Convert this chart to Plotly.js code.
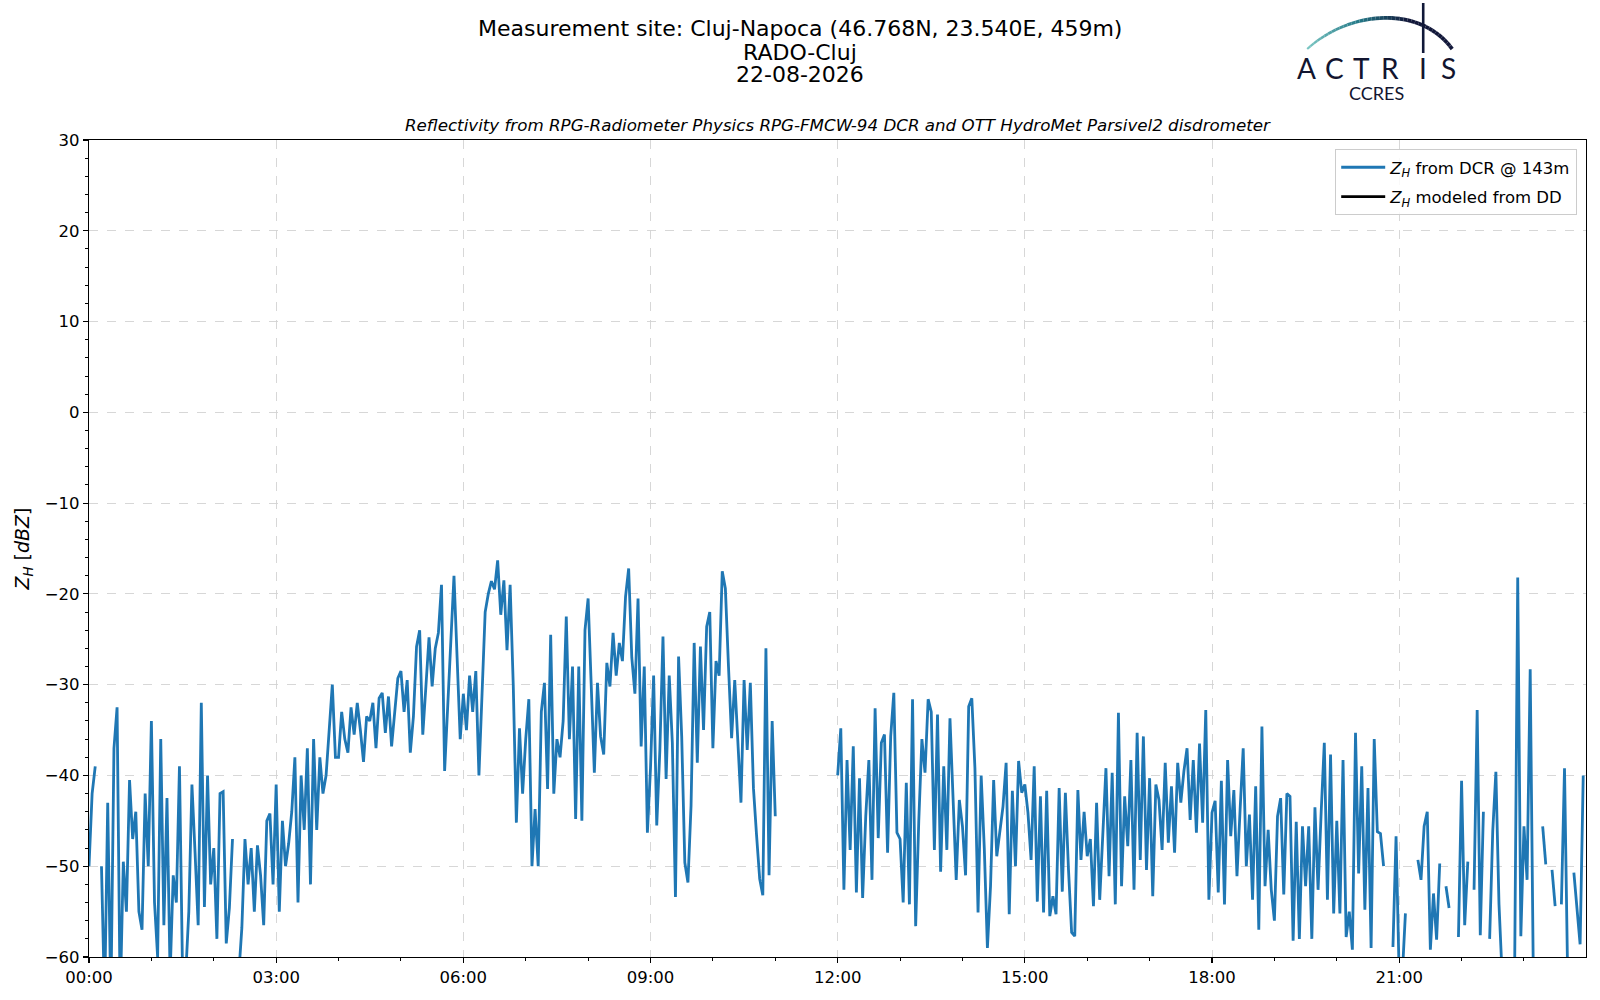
<!DOCTYPE html>
<html><head><meta charset="utf-8">
<script src="https://cdn.plot.ly/plotly-3.0.1.min.js"></script>
<style>html,body{margin:0;padding:0;background:#fff}#chart{width:1600px;height:1000px}</style>
</head><body><div id="chart"></div>
<script>
// ---- data: Z_H from DCR @ 143 m, one value every 3 minutes, one array per hour ----
const dayStart = '2026-08-22';
const stepMinutes = 3;
const h00 = [-50, -42, -39, null, -50, -65, -43, -65, -37, -32.5, -65, -49.5, -55, -40.5, -47, -44, -55, -57, -42, -50];
const h01 = [-34, -54, -60, -36, -56.5, -42.5, -62, -51, -54, -39, -62, -62, -55, -41, -48.5, -56.5, -32, -54.5, -40, -52];
const h02 = [-48, -58, -42, -41.8, -58.5, -54.6, -47, null, -62, -56.8, -47, -52, -48, -55, -47.7, -51, -56.5, -45, -44.2, -52];
const h03 = [-41, -55, -45, -50, -47.5, -44, -38, -54, -40, -46, -37, -52, -36, -46, -38, -42, -40, -34.5, -30, -38];
const h04 = [-38, -33, -36, -37.5, -32.5, -35.5, -32, -35, -38.5, -33.5, -34, -32, -37, -31.5, -30.9, -35.3, -31.3, -36.8, -33, -29.3];
const h05 = [-28.5, -33, -29.5, -37.5, -33.5, -25.8, -24, -35.5, -30.2, -24.8, -30.2, -26, -24.3, -19, -39.5, -32, -25, -18, -27, -36];
const h06 = [-31, -35, -29, -33, -28.5, -40, -31, -22, -20, -18.6, -19.5, -16.3, -22.3, -18.5, -26.2, -19, -30, -45.2, -34.8, -42];
const h07 = [-36, -31.6, -50, -43.7, -50, -33, -29.8, -41.5, -24.5, -42, -36, -38, -34, -22.5, -36, -28, -44.8, -28, -45, -24];
const h08 = [-20.5, -30.5, -39.7, -29.8, -35.7, -37.7, -27.6, -30.2, -24.3, -29, -25.4, -27.4, -20.3, -17.2, -27, -31, -20.5, -36.8, -28, -46.3];
const h09 = [-39.2, -29, -45.5, -37.2, -24.7, -40.4, -29, -36.4, -53.4, -26.9, -35.7, -49.6, -51.8, -43.3, -25.4, -38.6, -25.8, -35, -23.6, -22];
const h10 = [-37, -27.4, -29, -17.5, -19.4, -28, -35.9, -29.5, -36, -43, -29.5, -37.2, -29.8, -41.4, -46.6, -51.4, -53.2, -26, -51, -34];
const h11 = [-44.5, null, null, null, null, null, null, null, null, null, null, null, null, null, null, null, null, null, null, null];
const h12 = [-40, -34.8, -52.6, -38.3, -48.2, -36.8, -52.9, -40.3, -53.5, -44.5, -38.3, -51.5, -32.6, -46.9, -36.4, -35.5, -48.5, -35.7, -30.9, -46.3];
const h13 = [-47, -54, -40.8, -54.2, -31.6, -56.6, -45, -36, -39.7, -31.6, -33, -48.2, -33.3, -50.6, -39, -48.2, -33.7, -41.9, -51.5, -42.7];
const h14 = [-45.6, -51, -32.4, -31.5, -39.2, -55.1, -40, -48, -59, -52.2, -40.5, -48.9, -46, -43.4, -38.6, -55.3, -41.7, -50, -38.4, -41.9];
const h15 = [-41, -44.1, -49.3, -39, -53.9, -42.3, -55.1, -41.7, -55.5, -53.3, -55.3, -41.4, -52.8, -41.9, -50.4, -57.3, -57.7, -41.6, -49.3, -44];
const h16 = [-48.9, -47, -54.4, -43, -53.7, -47.2, -39.2, -51.1, -39.7, -54.2, -33.1, -52.2, -42.3, -47.8, -38.3, -52.6, -35.3, -49.3, -35.7, -50.4];
const h17 = [-40.3, -53.3, -41, -42.7, -48.2, -38.6, -47.4, -41.2, -48.5, -38.6, -43, -39.5, -37, -44.9, -38.3, -46.3, -36.5, -45.2, -32.8, -53.7];
const h18 = [-44.1, -42.8, -52.9, -40.6, -54.2, -38.3, -46.7, -41.6, -51.1, -43.8, -37, -50, -44.3, -53.7, -41.2, -57, -34.6, -52.2, -46, -52.6];
const h19 = [-56, -44.5, -42.5, -53.1, -42, -42.3, -58.2, -45.1, -58, -45.6, -52.2, -45.6, -58, -43.5, -52.6, -44, -36.4, -53.7, -37.7, -55.2];
const h20 = [-45, -55.2, -38.3, -57.8, -55, -59.2, -35.3, -50.8, -39, -54.8, -41.4, -59, -36, -46.2, -46.4, -50, null, null, -58.9, -46.7];
const h21 = [-62, -62, -55.2, null, null, null, -49.3, -51.5, -45.6, -44, -59.2, -53, -58.1, -49.7, null, -52.2, -54.6, null, null, -57.8];
const h22 = [-40.6, -56.5, -49.5, null, -52.6, -32.8, -57.6, -44, null, -58, -46.1, -39.6, -54.2, -62, null, null, null, -62, -18.2, -57.7];
const h23 = [-45.6, -51.5, -28.3, -62, null, null, -45.6, -49.8, null, -50.4, -54.4, null, -54.2, -39.2, -62, null, -50.7, -54.6, -58.6, -40];
const hourly = [h00,h01,h02,h03,h04,h05,h06,h07,h08,h09,h10,h11,h12,h13,h14,h15,h16,h17,h18,h19,h20,h21,h22,h23];
const zhDCR = [].concat(...hourly);
const zhDD = [null];
const pad = n => String(n).padStart(2, '0');
const times = zhDCR.map((_, i) => {
  const m = i * stepMinutes;
  return `${dayStart} ${pad(Math.floor(m / 60))}:${pad(m % 60)}`;
});

// ---- text ----
const titleLines = ['Measurement site: Cluj-Napoca (46.768N, 23.540E, 459m)', 'RADO-Cluj', '22-08-2026'];
const subTitle = 'Reflectivity from RPG-Radiometer Physics RPG-FMCW-94 DCR and OTT HydroMet Parsivel2 disdrometer';
const legendNames = ['<i>Z</i><sub><i>H</i></sub> from DCR @ 143m', '<i>Z</i><sub><i>H</i></sub> modeled from DD'];
const yTitle = '<i>Z</i><sub><i>H</i></sub> [<i>dBZ</i>]';
const logoLetters = ['A', 'C', 'T', 'R', 'I', 'S'];

// ---- geometry helpers (pixel -> paper) ----
const L = 88.7, R = 1585.8, T = 140, B = 957;
const px = p => (p - L) / (R - L);
const py = p => (B - p) / (B - T);

const annotations = [];
const titleY = [29, 52.4, 74.8];
titleLines.forEach((t, i) => annotations.push({
  text: t, xref: 'paper', yref: 'paper', x: px(800), y: py(titleY[i]),
  xanchor: 'center', yanchor: 'middle', showarrow: false,
  font: {family: 'DejaVu Sans', size: 22, color: '#000'}
}));
annotations.push({
  text: '<i>' + subTitle + '</i>', xref: 'paper', yref: 'paper', x: 0.5, y: py(125),
  xanchor: 'center', yanchor: 'middle', showarrow: false,
  font: {family: 'DejaVu Sans', size: 16.7, color: '#000'}
});
const letterX = [1306, 1334, 1361, 1390, 1423, 1448];
logoLetters.forEach((c, i) => annotations.push({
  text: c, xref: 'paper', yref: 'paper', x: px(letterX[i]), y: py(68),
  xanchor: 'center', yanchor: 'middle', showarrow: false,
  font: {family: 'Lato', size: 28, color: '#12152f'}
}));
annotations.push({
  text: 'CCRES', xref: 'paper', yref: 'paper', x: px(1376), y: py(93),
  xanchor: 'center', yanchor: 'middle', showarrow: false,
  font: {family: 'Lato', size: 18, color: '#12152f'}
});

// logo arc with gradient, split into segments
const shapes = [];
const P = [[1307, 49], [1350, 10], [1420, 5], [1452, 49]];
const bez = t => {
  const a = (1 - t) ** 3, b = 3 * (1 - t) ** 2 * t, c = 3 * (1 - t) * t * t, d = t ** 3;
  return [a * P[0][0] + b * P[1][0] + c * P[2][0] + d * P[3][0], a * P[0][1] + b * P[1][1] + c * P[2][1] + d * P[3][1]];
};
const c0 = [124, 200, 196], c1 = [36, 120, 135], c2 = [18, 24, 58];
const mix = (a, b, f) => a.map((v, i) => Math.round(v + (b[i] - v) * f));
const N = 40;
for (let i = 0; i < N; i++) {
  const t0 = i / N, t1 = (i + 1) / N, tm = (t0 + t1) / 2;
  const col = tm < 0.35 ? mix(c0, c1, tm / 0.35) : mix(c1, c2, Math.min(1, (tm - 0.35) / 0.3));
  const a = bez(t0), b = bez(t1);
  shapes.push({type: 'line', xref: 'paper', yref: 'paper', x0: px(a[0]), y0: py(a[1]), x1: px(b[0]), y1: py(b[1]),
    line: {color: `rgb(${col.join(',')})`, width: 2.2 + 1.6 * Math.min(1, tm * 2)}});
}
shapes.push({type: 'line', xref: 'paper', yref: 'paper', x0: px(1423), y0: py(3), x1: px(1423), y1: py(53),
  line: {color: '#101838', width: 2.6}});

const traces = [
  {x: times, y: zhDCR, type: 'scatter', mode: 'lines', name: legendNames[0], legendgroup: 'dcr',
   line: {color: '#1f77b4', width: 2.8}, connectgaps: false},
  {x: [times[0]], y: zhDD, type: 'scatter', mode: 'lines', name: legendNames[1], legendgroup: 'dd',
   line: {color: '#000000', width: 2.8}}
];

const axisCommon = {
  ticks: 'outside', ticklen: 5, tickwidth: 1.1, tickcolor: '#000',
  showline: true, linecolor: '#000', linewidth: 1.1, mirror: true,
  showgrid: true, gridcolor: '#d3d3d3', griddash: 'dash', gridwidth: 0.9,
  zeroline: false, tickfont: {family: 'DejaVu Sans', size: 16.5, color: '#000'}
};

const layout = {
  width: 1600, height: 1000,
  margin: {l: L, r: 1600 - R, t: T, b: 1000 - B},
  paper_bgcolor: '#fff', plot_bgcolor: '#fff',
  font: {family: 'DejaVu Sans', size: 16.5, color: '#000'},
  showlegend: true,
  legend: {x: px(1577), xanchor: 'right', y: py(149), yanchor: 'top', itemwidth: 44,
    tracegroupgap: 5,
    bgcolor: 'rgba(255,255,255,0.85)', bordercolor: '#cccccc', borderwidth: 1,
    font: {family: 'DejaVu Sans', size: 16.5, color: '#000'}},
  xaxis: Object.assign({}, axisCommon, {
    type: 'date', range: [`${dayStart} 00:00`, `${dayStart} 23:59:40`],
    tick0: `${dayStart} 00:00`, dtick: 3 * 3600 * 1000, tickformat: '%H:%M',
    minor: {dtick: 3600 * 1000, ticks: 'outside', ticklen: 3, tickwidth: 1, tickcolor: '#000', showgrid: false}
  }),
  yaxis: Object.assign({}, axisCommon, {
    range: [-60, 30], tick0: 0, dtick: 10,
    minor: {dtick: 2, ticks: 'outside', ticklen: 3, tickwidth: 1, tickcolor: '#000', showgrid: false},
    title: {text: yTitle, font: {family: 'DejaVu Sans', size: 19, color: '#000'}, standoff: 10}
  }),
  annotations: annotations,
  shapes: shapes
};

Plotly.newPlot('chart', traces, layout, {displayModeBar: false, staticPlot: true});
</script>
</body></html>
